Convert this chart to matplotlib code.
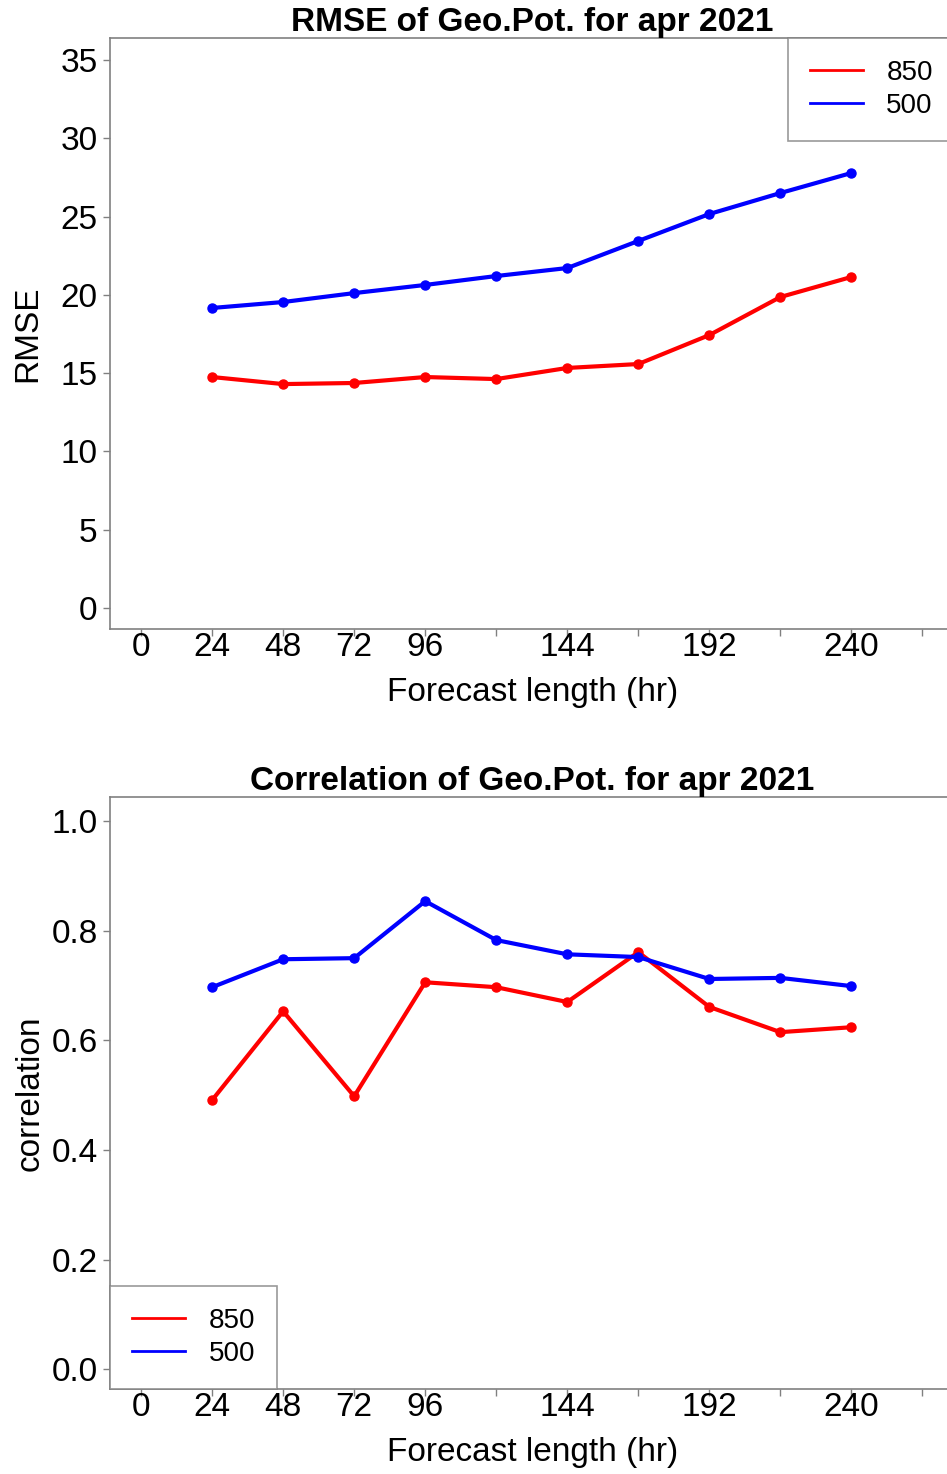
import matplotlib
matplotlib.use("Agg")
import matplotlib.pyplot as plt
from matplotlib import font_manager

# forecast hours and scores for apr 2021
hours = [24, 48, 72, 96, 120, 144, 168, 192, 216, 240]
rmse_850 = [14.75, 14.30, 14.37, 14.75, 14.62, 15.33, 15.58, 17.43, 19.86, 21.14]
rmse_500 = [19.16, 19.54, 20.11, 20.63, 21.20, 21.71, 23.44, 25.16, 26.50, 27.78]
corr_850 = [0.491, 0.653, 0.498, 0.706, 0.697, 0.670, 0.761, 0.661, 0.615, 0.624]
corr_500 = [0.697, 0.748, 0.750, 0.854, 0.783, 0.757, 0.752, 0.712, 0.714, 0.699]

xticks = [0, 24, 48, 72, 96, 120, 144, 168, 192, 216, 240, 264]
xticklabels = ["0", "24", "48", "72", "96", "", "144", "", "192", "", "240", ""]

# narrow font if we have it, otherwise plain liberation
names = set(f.name for f in font_manager.fontManager.ttflist)
narrow = "Liberation Sans Narrow" if "Liberation Sans Narrow" in names else "Liberation Sans"
plain = "Liberation Sans"

W, H = 947, 1474
fig = plt.figure(figsize=(W / 100, H / 100), dpi=100)

def box(l, t, r, b):
    return [l / W, 1 - b / H, (r - l) / W, (b - t) / H]

gray = "#808080"

def setup(ax, ylim, yticks, ylabels, ylabfont, ylabel, ylabfam, ylpad, title):
    ax.set_xlim(-10.5, 275)
    ax.set_ylim(*ylim)
    ax.set_xticks(xticks)
    ax.set_xticklabels(xticklabels, fontfamily=narrow, fontsize=24)
    ax.set_yticks(yticks)
    ax.set_yticklabels(ylabels, fontfamily=ylabfont, fontsize=24)
    ax.tick_params(axis="x", direction="out", length=5, width=1, color=gray, pad=-3)
    ax.tick_params(axis="y", direction="out", length=5, width=1, color=gray, pad=4)
    for s in ax.spines.values():
        s.set_color(gray)
        s.set_linewidth(1.2)
    ax.set_xlabel("Forecast length (hr)", fontfamily=narrow, fontsize=24, labelpad=10)
    ax.set_ylabel(ylabel, fontfamily=ylabfam, fontsize=24, labelpad=ylpad)
    ax.set_title(title, fontfamily=narrow, fontweight="bold", fontsize=24, pad=2)

def add_legend(ax, where):
    leg = ax.legend(loc=where, borderaxespad=0, fancybox=False, handlelength=1.9,
                    prop={"family": plain, "size": 20}, borderpad=0.8, labelspacing=0.25,
                    handletextpad=0.85)
    leg.get_frame().set_edgecolor(gray)
    leg.get_frame().set_linewidth(1.2)
    for h in leg.get_lines():
        h.set_marker("")
        h.set_linewidth(2)

ax1 = fig.add_axes(box(110, 38, 955, 629))
ax1.plot(hours, rmse_850, color="red", lw=3, marker="o", ms=6.5, label="850")
ax1.plot(hours, rmse_500, color="blue", lw=3, marker="o", ms=6.5, label="500")
setup(ax1, (-1.34, 36.4), range(0, 36, 5), [str(v) for v in range(0, 36, 5)],
      narrow, "RMSE", plain, 12, "RMSE of Geo.Pot. for apr 2021")
add_legend(ax1, "upper right")

ax2 = fig.add_axes(box(110, 797, 955, 1389))
ax2.plot(hours, corr_850, color="red", lw=3, marker="o", ms=6.5, label="850")
ax2.plot(hours, corr_500, color="blue", lw=3, marker="o", ms=6.5, label="500")
cticks = [0.0, 0.2, 0.4, 0.6, 0.8, 1.0]
setup(ax2, (-0.036, 1.044), cticks, ["%.1f" % v for v in cticks],
      plain, "correlation", narrow, 4, "Correlation of Geo.Pot. for apr 2021")
add_legend(ax2, "lower left")

fig.savefig("out.png", dpi=100, facecolor="white")
